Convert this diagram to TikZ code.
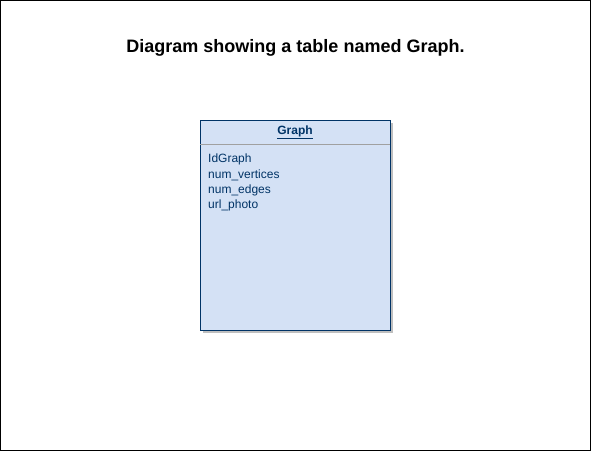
\documentclass[tikz,border=0pt]{standalone}
\usepackage{fontspec}
\setmainfont{Liberation Sans}
\usetikzlibrary{positioning,shadows}
\definecolor{tablefill}{HTML}{D4E1F5}
\definecolor{tableline}{HTML}{003366}
\definecolor{sepline}{HTML}{A0A0A0}
\tikzset{
  frame/.style={
    draw=black,
    line width=1pt,
  },
  title/.style={
    font=\fontsize{18}{21}\selectfont\bfseries,
    inner sep=0pt,
  },
  table/.style={
    draw=tableline,
    fill=tablefill,
    rectangle,
    line width=1pt,
    minimum width=190pt,
    minimum height=210pt,
    inner sep=0pt,
    drop shadow={shadow xshift=3pt, shadow yshift=-3pt, fill=black!25, opacity=1},
  },
  header/.style={
    text=tableline,
    font=\fontsize{12}{14}\selectfont\bfseries,
    inner sep=0pt,
  },
  field/.style={
    text=tableline,
    font=\fontsize{12}{14}\selectfont,
    inner sep=0pt,
    text height=10.5pt,
    text depth=4.5pt,
  },
  headline/.style={
    draw=sepline,
    line width=1pt,
  },
}
\begin{document}
\begin{tikzpicture}[x=1pt,y=-1pt]
  \useasboundingbox (0,0) rectangle (592,451);
  \draw[frame] (0.5,0.5) rectangle (590.5,450.5);

  \node[title, anchor=base] (caption) at (295.5,52) {Diagram showing a table named Graph.};

  % table
  \node[table] (graph) at (295,225) {};
  \draw[headline] ([xshift=0.5pt,yshift=-24.5pt]graph.north west) -- ([xshift=-0.5pt,yshift=-24.5pt]graph.north east);
  \node[header, anchor=base] (graphname) at (295,134.5) {\underline{Graph}};

  % fields
  \node[field, anchor=north west] (idgraph) at ([xshift=8.5pt,yshift=-32.5pt]graph.north west) {IdGraph};
  \node[field, below=0pt of idgraph.south west, anchor=north west] (numvertices) {num\_vertices};
  \node[field, below=0pt of numvertices.south west, anchor=north west] (numedges) {num\_edges};
  \node[field, below=0pt of numedges.south west, anchor=north west] (urlphoto) {url\_photo};
\end{tikzpicture}
\end{document}
